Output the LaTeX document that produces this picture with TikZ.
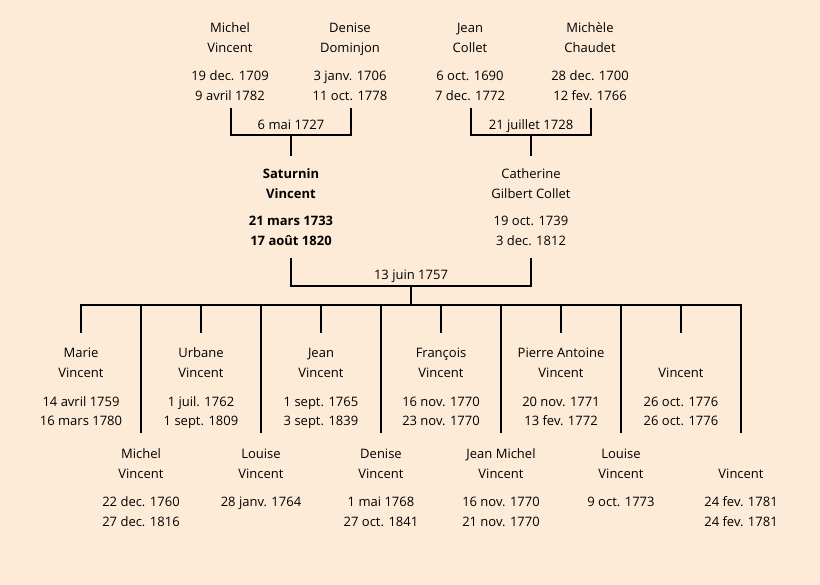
\documentclass[tikz,border=0pt]{standalone}
\usepackage{fontspec}
\setmainfont{Open Sans}
\definecolor{bg}{RGB}{253,235,216}
\begin{document}
\begin{tikzpicture}[x=1pt,y=-1pt,
  person/.style={align=center, anchor=base, inner sep=0pt, font=\fontsize{13}{20}\selectfont},
  wed/.style={anchor=base, inner sep=0pt, font=\fontsize{13}{16}\selectfont},
  link/.style={draw=black, line width=2pt}]
\fill[bg] (0,0) rectangle (820,585);
\useasboundingbox (0,0) rectangle (820,585);
% generation 1 (anchor = baseline of the last line)
\node[person] (mv) at (230,101) {Michel\\Vincent\\[8pt]19 dec. 1709\\9 avril 1782};
\node[person] (dd) at (350,101) {Denise\\Dominjon\\[8pt]3 janv. 1706\\11 oct. 1778};
\node[person] (jc) at (470,101) {Jean\\Collet\\[8pt]6 oct. 1690\\7 dec. 1772};
\node[person] (mc) at (590,101) {Michèle\\Chaudet\\[8pt]28 dec. 1700\\12 fev. 1766};
\node[wed] (w1) at (291,129.7) {6 mai 1727};
\node[wed] (w2) at (531,129.7) {21 juillet 1728};
\coordinate (mvd) at (231,108);
\coordinate (ddd) at (351,108);
\coordinate (jcd) at (471,108);
\coordinate (mcd) at (591,108);
\coordinate (j1) at (291,135);
\coordinate (j2) at (531,135);
% generation 2
\node[person, font=\fontsize{13}{20}\selectfont\bfseries] (sv) at (291,246) {Saturnin\\Vincent\\[7pt]21 mars 1733\\17 août 1820};
\node[person] (cg) at (531,246) {Catherine\\Gilbert Collet\\[7pt]19 oct. 1739\\3 dec. 1812};
\coordinate (svu) at (291,156);
\coordinate (cgu) at (531,156);
\coordinate (svd) at (291,258);
\coordinate (cgd) at (531,258);
\coordinate (j3) at (411,286);
\coordinate (bar) at (411,305);
\node[wed] (w3) at (411,279.5) {13 juin 1757};
\draw[link] (mvd) |- (j1) -| (ddd);
\draw[link] (j1) -- (svu);
\draw[link] (jcd) |- (j2) -| (mcd);
\draw[link] (j2) -- (cgu);
\draw[link] (svd) |- (j3) -| (cgd);
\draw[link] (j3) -- (bar);
% children, upper row
\node[person] (k1) at (81,426) {Marie\\Vincent\\[8pt]14 avril 1759\\16 mars 1780};
\node[person] (k3) at (201,426) {Urbane\\Vincent\\[8pt]1 juil. 1762\\1 sept. 1809};
\node[person] (k5) at (321,426) {Jean\\Vincent\\[8pt]1 sept. 1765\\3 sept. 1839};
\node[person] (k7) at (441,426) {François\\Vincent\\[8pt]16 nov. 1770\\23 nov. 1770};
\node[person] (k9) at (561,426) {Pierre Antoine\\Vincent\\[8pt]20 nov. 1771\\13 fev. 1772};
\node[person] (k11) at (681,426) {\strut\\Vincent\\[8pt]26 oct. 1776\\26 oct. 1776};
% children, lower row
\node[person] (k2) at (141,526) {Michel\\Vincent\\[8pt]22 dec. 1760\\27 dec. 1816};
\node[person] (k4) at (261,526) {Louise\\Vincent\\[8pt]28 janv. 1764\\\strut};
\node[person] (k6) at (381,526) {Denise\\Vincent\\[8pt]1 mai 1768\\27 oct. 1841};
\node[person] (k8) at (501,526) {Jean Michel\\Vincent\\[8pt]16 nov. 1770\\21 nov. 1770};
\node[person] (k10) at (621,526) {Louise\\Vincent\\[8pt]9 oct. 1773\\\strut};
\node[person] (k12) at (741,526) {\strut\\Vincent\\[8pt]24 fev. 1781\\24 fev. 1781};
% drop points
\coordinate (d1) at (81,333);
\coordinate (d3) at (201,333);
\coordinate (d5) at (321,333);
\coordinate (d7) at (441,333);
\coordinate (d9) at (561,333);
\coordinate (d11) at (681,333);
\coordinate (d2) at (141,433);
\coordinate (d4) at (261,433);
\coordinate (d6) at (381,433);
\coordinate (d8) at (501,433);
\coordinate (d10) at (621,433);
\coordinate (d12) at (741,433);
\draw[link] (d1) |- (bar) -| (d12);
\foreach \d in {d2,d3,d4,d5,d6,d7,d8,d9,d10,d11}
  \draw[link] (\d |- bar) -- (\d);
\end{tikzpicture}
\end{document}
